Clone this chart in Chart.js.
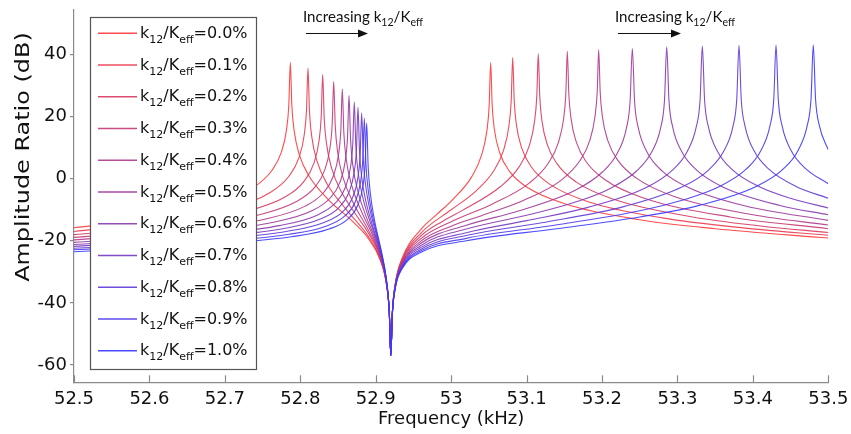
<!DOCTYPE html>
<html><head><meta charset="utf-8">
<script src="https://cdn.jsdelivr.net/npm/chart.js@4.4.1/dist/chart.umd.min.js"></script>
<style>html,body{margin:0;padding:0;background:#fff}#wrap{width:851px;height:434px;position:relative}</style>
</head><body><div id="wrap"><canvas id="c" width="851" height="434"></canvas></div>
<script>
// ---- data ----
const couplingLabels = ['0.0','0.1','0.2','0.3','0.4','0.5','0.6','0.7','0.8','0.9','1.0'];
const xTickValues = [52.5,52.6,52.7,52.8,52.9,53.0,53.1,53.2,53.3,53.4,53.5];
const yTickValues = [-60,-40,-20,0,20,40];

const freq_00 = [52.5,52.6,52.7,52.7368,52.7618,52.7748,52.7818,52.7848,52.7868,52.7888,52.7918,52.7988,52.8118,52.8368,52.87,52.89,52.905,52.914,52.918,52.92,52.922,52.926,52.935,52.96,52.98,53.0024,53.0274,53.0404,53.0474,53.0504,53.0524,53.0544,53.0574,53.0644,53.0774,53.1024,53.1524,53.25,53.35,53.5];
const amp_00  = [-15.8,-12.7,-7.2,-3.0,2.5,8.5,15.9,23.8,37.5,23.6,15.6,7.7,0.8,-6.6,-13.9,-19.2,-25.6,-33.7,-43.2,-57,-43.2,-33.7,-25.6,-16.3,-11.7,-6.6,0.7,7.7,15.5,23.6,37.5,23.7,15.8,8.4,2.4,-3.0,-8.2,-13.2,-16.1,-19.1];

const freq_01 = [52.5,52.6,52.7,52.7602,52.7852,52.7982,52.8052,52.8082,52.8102,52.8122,52.8152,52.8222,52.8352,52.8602,52.89,52.905,52.914,52.918,52.92,52.922,52.926,52.935,52.96,53.0,53.0316,53.0566,53.0696,53.0766,53.0796,53.0816,53.0836,53.0866,53.0936,53.1066,53.1316,53.1816,53.28,53.39,53.5];
const amp_01  = [-17.0,-14.3,-9.9,-4.4,0.9,6.8,14.1,21.9,35.7,21.7,13.6,5.7,-1.5,-9.7,-18.5,-25.3,-33.6,-43.2,-57,-43.3,-33.9,-26.0,-17.5,-10.0,-4.2,2.6,9.3,17.1,25.1,39.1,25.2,17.3,9.9,3.7,-1.9,-7.4,-12.6,-15.9,-18.2];

const freq_02 = [52.5,52.6,52.7297,52.7797,52.8047,52.8177,52.8247,52.8277,52.8297,52.8317,52.8347,52.8417,52.8547,52.8747,52.89,52.905,52.914,52.918,52.92,52.922,52.926,52.935,52.96,52.99,53.0155,53.0655,53.0905,53.1035,53.1105,53.1135,53.1155,53.1175,53.1205,53.1275,53.1405,53.1655,53.2155,53.32,53.41,53.5];
const amp_02  = [-18.0,-15.7,-10.4,-5.9,-0.9,4.8,12.0,19.8,33.6,19.5,11.4,3.3,-4.3,-11.9,-17.4,-24.8,-33.4,-43.1,-57,-43.3,-34.0,-26.4,-18.4,-13.5,-10.1,-2.5,4.0,10.6,18.4,26.4,40.3,26.4,18.5,11.0,4.8,-1.0,-6.6,-12.3,-15.2,-17.3];

const freq_03 = [52.5,52.6,52.7,52.7443,52.7943,52.8193,52.8323,52.8393,52.8423,52.8443,52.8463,52.8493,52.8563,52.8693,52.89,52.905,52.914,52.918,52.92,52.922,52.926,52.935,52.96,53.004,53.054,53.104,53.129,53.142,53.149,53.152,53.154,53.156,53.159,53.166,53.179,53.204,53.254,53.37,53.5];
const amp_03  = [-18.9,-16.8,-13.8,-11.7,-7.4,-2.7,2.8,9.9,17.6,31.3,17.3,9.0,0.7,-7.3,-16.4,-24.4,-33.2,-43.1,-57,-43.4,-34.1,-26.7,-19.3,-13.4,-8.2,-1.3,5.1,11.6,19.2,27.2,41.1,27.3,19.3,11.8,5.5,-0.3,-6.1,-12.3,-16.1];

const freq_04 = [52.5,52.6,52.7,52.7557,52.8057,52.8307,52.8437,52.8507,52.8537,52.8557,52.8577,52.8607,52.8677,52.8807,52.895,52.908,52.915,52.918,52.92,52.922,52.926,52.935,52.96,53.0,53.04,53.0956,53.1456,53.1706,53.1836,53.1906,53.1936,53.1956,53.1976,53.2006,53.2076,53.2206,53.2456,53.2956,53.4,53.5];
const amp_04  = [-19.7,-17.9,-15.2,-12.9,-8.9,-4.5,0.8,7.8,15.4,28.9,15.0,6.7,-1.8,-10.3,-17.8,-26.3,-34.7,-43.0,-57,-43.5,-34.3,-27.1,-20.1,-15.3,-11.9,-7.0,-0.5,5.8,12.2,19.9,27.8,41.6,27.9,19.9,12.4,6.1,0.2,-5.7,-11.6,-14.9];

const freq_05 = [52.5,52.6,52.7,52.7646,52.8146,52.8396,52.8526,52.8596,52.8626,52.8646,52.8666,52.8696,52.8766,52.8866,52.90,52.91,52.916,52.918,52.92,52.922,52.926,52.935,52.96,53.02,53.0902,53.1652,53.2002,53.2202,53.2322,53.2372,53.2402,53.2432,53.2482,53.2602,53.2802,53.3152,53.3902,53.5];
const amp_05  = [-20.5,-18.8,-16.4,-14.0,-10.4,-6.2,-1.1,5.7,13.3,26.8,12.8,4.4,-4.3,-11.7,-19.9,-27.8,-36.7,-43.0,-57,-43.5,-34.4,-27.4,-20.8,-15.0,-10.3,-3.6,2.1,8.2,16.2,24.8,42.0,24.8,16.3,8.4,2.4,-2.9,-8.8,-13.4];

const freq_06 = [52.5,52.6,52.7,52.7716,52.8216,52.8466,52.8596,52.8666,52.8696,52.8716,52.8736,52.8766,52.8836,52.895,52.908,52.915,52.918,52.92,52.922,52.926,52.935,52.96,53.02,53.11,53.17,53.2108,53.2458,53.2658,53.2778,53.2828,53.2858,53.2888,53.2938,53.3058,53.3258,53.3608,53.4358,53.5];
const amp_06  = [-21.2,-19.6,-17.5,-15.1,-11.8,-7.8,-2.9,3.8,11.3,24.7,10.7,2.2,-6.8,-15.6,-25.5,-34.5,-42.9,-57,-43.6,-34.6,-27.7,-21.5,-16.2,-11.2,-7.1,-3.1,2.5,8.6,16.5,25.1,42.5,25.1,16.6,8.7,2.7,-2.7,-8.6,-11.6];

const freq_07 = [52.5,52.6,52.7,52.7765,52.8265,52.8515,52.8645,52.8715,52.8745,52.8765,52.8785,52.8815,52.8865,52.895,52.908,52.915,52.918,52.92,52.922,52.926,52.935,52.96,53.02,53.1,53.18,53.258,53.293,53.313,53.325,53.33,53.333,53.336,53.341,53.353,53.373,53.408,53.45,53.5];
const amp_07  = [-21.8,-20.3,-18.4,-16.1,-13.0,-9.2,-4.4,2.2,9.6,23.0,8.9,0.3,-6.8,-14.5,-25.3,-34.5,-43.0,-57,-43.7,-34.8,-28.1,-22.1,-17.4,-13.5,-9.3,-2.9,2.7,8.8,16.8,25.3,42.8,25.3,16.8,8.9,2.9,-2.5,-6.3,-9.4];

const freq_08 = [52.5,52.6,52.7,52.7814,52.8314,52.8564,52.8694,52.8764,52.8794,52.8814,52.8834,52.8864,52.8914,52.90,52.91,52.915,52.918,52.92,52.922,52.926,52.935,52.96,53.02,53.12,53.23,53.3066,53.3416,53.3616,53.3736,53.3786,53.3816,53.3846,53.3896,53.4016,53.4216,53.4566,53.5];
const amp_08  = [-22.4,-21.1,-19.3,-17.0,-14.1,-10.6,-6.0,0.4,7.8,21.2,7.0,-1.7,-9.0,-17.3,-26.9,-34.2,-42.9,-57,-43.7,-34.9,-28.4,-22.7,-18.3,-14.2,-8.9,-2.6,2.9,9.0,16.9,25.5,43.0,25.5,17.0,9.0,3.0,-2.4,-6.3];

const freq_09 = [52.5,52.6,52.7,52.7849,52.8349,52.8599,52.8729,52.8799,52.8829,52.8849,52.8869,52.8899,52.8949,52.905,52.912,52.916,52.918,52.92,52.922,52.926,52.935,52.96,53.02,53.13,53.23,53.2807,53.32,53.3557,53.3907,53.4107,53.4227,53.4277,53.4307,53.4337,53.4387,53.4507,53.4707,53.5];
const amp_09  = [-22.9,-21.7,-20.1,-17.9,-15.2,-11.8,-7.4,-1.0,6.3,19.5,5.4,-3.4,-10.9,-21.3,-29.2,-36.4,-42.9,-57,-43.8,-35.1,-28.7,-23.2,-19.2,-15.2,-11.3,-8.6,-5.9,-2.5,3.0,9.1,17.1,25.6,43.1,25.6,17.1,9.1,3.1,-1.6];

const freq_10 = [52.5,52.6,52.7,52.788,52.838,52.863,52.876,52.883,52.886,52.888,52.89,52.893,52.898,52.908,52.914,52.918,52.92,52.922,52.926,52.935,52.96,53.02,53.14,53.25,53.3301,53.4051,53.4401,53.4601,53.4721,53.4771,53.4801,53.4831,53.4881,53.5];
const amp_10  = [-23.5,-22.3,-20.8,-18.7,-16.2,-13.0,-8.6,-2.4,4.8,18.0,3.8,-5.0,-12.8,-23.9,-32.1,-42.8,-57,-43.8,-35.2,-29.0,-23.7,-20.0,-16.1,-12.3,-8.5,-2.4,3.1,9.2,17.2,25.7,43.2,25.7,17.2,9.3];

// ---- chart construction ----
const freqSeries = [freq_00,freq_01,freq_02,freq_03,freq_04,freq_05,freq_06,freq_07,freq_08,freq_09,freq_10];
const ampSeries  = [amp_00,amp_01,amp_02,amp_03,amp_04,amp_05,amp_06,amp_07,amp_08,amp_09,amp_10];
const N = couplingLabels.length;
function curveColor(i, a){
  const t = i/(N-1), w = 0.22;
  const r = Math.round(255*(1-t)*(1-w) + 255*w), g = Math.round(255*w), b = Math.round(255*t*(1-w) + 255*w);
  return 'rgba(' + r + ',' + g + ',' + b + ',' + a + ')';
}

const FONT = '"DejaVu Sans", "Liberation Sans", Arial, sans-serif';
const AXIS_COLOR = '#8a8a8a';
const TEXT_COLOR = '#111';

const datasets = couplingLabels.map((lab, i) => ({
  label: 'k12/Keff=' + lab + '%',
  data: freqSeries[i].map((f, j) => ({x: f, y: ampSeries[i][j]})),
  borderColor: curveColor(i, 0.9),
  borderWidth: 1.1,
  pointRadius: 0,
  fill: false,
  cubicInterpolationMode: 'monotone',
  order: N - 1 - i
}));

function drawRich(ctx, x, baseline, parts, stretch){
  ctx.save();
  ctx.translate(x, baseline);
  ctx.scale(stretch, 1);
  ctx.textAlign = 'left';
  ctx.textBaseline = 'alphabetic';
  let cx = 0;
  for (const p of parts){
    ctx.font = p.font;
    ctx.fillText(p.text, cx, p.dy);
    cx += ctx.measureText(p.text).width;
  }
  ctx.restore();
}
function richWidth(ctx, parts){
  let w = 0;
  ctx.save();
  for (const p of parts){ ctx.font = p.font; w += ctx.measureText(p.text).width; }
  ctx.restore();
  return w;
}

const inwardTicks = {
  id: 'inwardTicks',
  afterDraw(chart){
    const {ctx, chartArea} = chart;
    const xs = chart.scales.x;
    ctx.save();
    ctx.strokeStyle = AXIS_COLOR;
    ctx.lineWidth = 1.2;
    xTickValues.forEach(v => {
      const px = Math.round(xs.getPixelForValue(v)) + 0.5;
      ctx.beginPath();
      ctx.moveTo(px, chartArea.bottom);
      ctx.lineTo(px, chartArea.bottom - 7);
      ctx.stroke();
    });
    ctx.restore();
  }
};

const keffLegend = {
  id: 'keffLegend',
  afterDatasetsDraw(chart){
    const ctx = chart.ctx;
    const box = {l: 90.5, t: 17.5, w: 166, h: 352};
    ctx.save();
    ctx.fillStyle = '#fff';
    ctx.fillRect(box.l, box.t, box.w, box.h);
    ctx.strokeStyle = '#555';
    ctx.lineWidth = 1.2;
    ctx.strokeRect(box.l, box.t, box.w, box.h);
    const main = '16px ' + FONT, sub = '11px ' + FONT;
    couplingLabels.forEach((lab, i) => {
      const y = 33.3 + i * 31.74;
      ctx.strokeStyle = chart.data.datasets[i].borderColor;
      ctx.lineWidth = 1.6;
      ctx.beginPath(); ctx.moveTo(98, y); ctx.lineTo(137, y); ctx.stroke();
      ctx.fillStyle = TEXT_COLOR;
      drawRich(ctx, 140, y + 4.6, [
        {text: 'k', font: main, dy: 0},
        {text: '12', font: sub, dy: 5},
        {text: '/K', font: main, dy: 0},
        {text: 'eff', font: sub, dy: 5},
        {text: '=' + lab + '%', font: main, dy: 0}
      ], 1.0);
    });
    ctx.restore();
  }
};

const annotations = {
  id: 'annotations',
  afterDraw(chart){
    const ctx = chart.ctx;
    const main = '15px Lato, "Open Sans", sans-serif', sub = '10.5px Lato, "Open Sans", sans-serif';
    const parts = [
      {text: 'Increasing k', font: main, dy: 0},
      {text: '12', font: sub, dy: 3.5},
      {text: '/K', font: main, dy: 0},
      {text: 'eff', font: sub, dy: 3.5}
    ];
    ctx.save();
    const stretch = 120 / richWidth(ctx, parts);
    [{x: 303, ax0: 306, ax1: 368}, {x: 615, ax0: 618, ax1: 681}].forEach(a => {
      ctx.fillStyle = '#111';
      drawRich(ctx, a.x, 22, parts, stretch);
      const ay = 33.5;
      ctx.strokeStyle = '#111';
      ctx.lineWidth = 1.1;
      ctx.beginPath(); ctx.moveTo(a.ax0, ay); ctx.lineTo(a.ax1 - 6, ay); ctx.stroke();
      ctx.beginPath();
      ctx.moveTo(a.ax1, ay); ctx.lineTo(a.ax1 - 10, ay - 4); ctx.lineTo(a.ax1 - 10, ay + 4); ctx.closePath();
      ctx.fill();
    });
    // y axis title (elongated as in the reference)
    ctx.fillStyle = TEXT_COLOR;
    ctx.translate(24, 157);
    ctx.rotate(-Math.PI / 2);
    ctx.scale(1.26, 1);
    ctx.font = '19px ' + FONT;
    ctx.textAlign = 'center';
    ctx.textBaseline = 'middle';
    ctx.fillText('Amplitude Ratio (dB)', 0, 0);
    ctx.restore();
  }
};

new Chart(document.getElementById('c'), {
  type: 'line',
  data: {datasets},
  options: {
    responsive: false,
    animation: false,
    events: [],
    layout: {padding: {top: 10, right: 22.7, bottom: 0, left: 0}},
    plugins: {legend: {display: false}, tooltip: {enabled: false}},
    scales: {
      x: {
        type: 'linear', min: 52.5, max: 53.5,
        afterBuildTicks: s => { s.ticks = xTickValues.map(v => ({value: v})); },
        afterFit: s => { s.height = 51.7; s.paddingLeft = 0; s.paddingRight = 0; },
        grid: {display: true, drawOnChartArea: false, drawTicks: false},
        border: {display: true, color: AXIS_COLOR, width: 1.2},
        ticks: {
          padding: 6, color: TEXT_COLOR, maxRotation: 0, autoSkip: false,
          font: {family: FONT, size: 18},
          callback: v => String(+(+v).toFixed(1))
        },
        title: {display: true, text: 'Frequency (kHz)', color: TEXT_COLOR,
          font: {family: FONT, size: 18}, padding: {top: 0, bottom: 4}}
      },
      y: {
        type: 'linear', min: -65.6, max: 54.4,
        afterBuildTicks: s => { s.ticks = yTickValues.map(v => ({value: v})); },
        afterFit: s => { s.width = 74; s.paddingTop = 0; s.paddingBottom = 0; },
        grid: {display: true, drawOnChartArea: false, drawTicks: true, tickLength: 4, color: AXIS_COLOR, lineWidth: 1.2},
        border: {display: true, color: AXIS_COLOR, width: 1.2},
        ticks: {padding: 3, color: TEXT_COLOR, font: {family: FONT, size: 18}, callback: v => String(v)}
      }
    }
  },
  plugins: [inwardTicks, keffLegend, annotations]
});
</script>
</body></html>
